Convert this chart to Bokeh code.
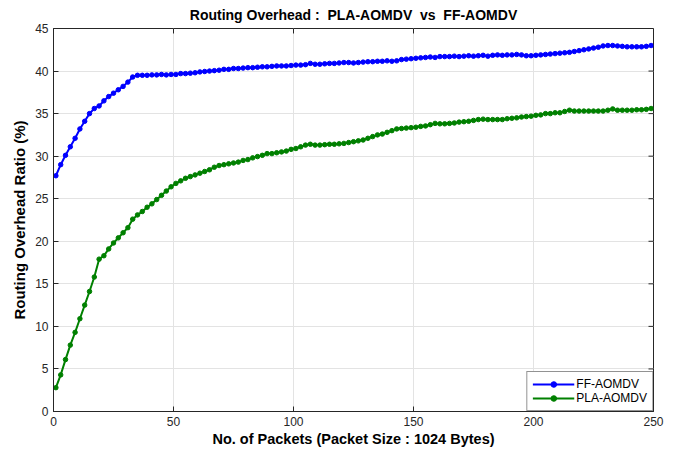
from bokeh.plotting import figure
from bokeh.models import Range1d, FixedTicker, Legend, LegendItem
from bokeh.embed import file_html
from bokeh.resources import INLINE

packets = list(range(1, 251, 2))

ff_aomdv = [
    27.7, 29.0, 30.1, 31.1, 32.1, 33.2, 34.1, 35.0, 35.6, 35.9,
    36.5, 37.0, 37.4, 37.8, 38.2, 38.7, 39.3, 39.5, 39.5, 39.5,
    39.55, 39.55, 39.6, 39.55, 39.6, 39.6, 39.7, 39.7, 39.75, 39.8,
    39.9, 39.95, 40.0, 40.05, 40.1, 40.2, 40.2, 40.3, 40.3, 40.35,
    40.4, 40.4, 40.45, 40.5, 40.5, 40.55, 40.6, 40.6, 40.6, 40.65,
    40.7, 40.7, 40.75, 40.9, 40.8, 40.8, 40.85, 40.9, 40.9, 40.95,
    41.0, 41.0, 40.95, 41.0, 41.05, 41.1, 41.1, 41.15, 41.15, 41.2,
    41.15, 41.2, 41.35, 41.4, 41.45, 41.5, 41.55, 41.6, 41.65, 41.6,
    41.7, 41.7, 41.7, 41.75, 41.7, 41.75, 41.8, 41.75, 41.8, 41.85,
    41.75, 41.85, 41.9, 41.85, 41.9, 41.9, 41.95, 41.9, 41.8, 41.8,
    41.85, 41.9, 41.95, 42.0, 42.05, 42.1, 42.15, 42.2, 42.3, 42.4,
    42.5, 42.6, 42.7, 42.8, 42.95, 43.0, 43.0, 42.95, 42.9, 42.85,
    42.85, 42.85, 42.85, 42.9, 43.0,
]

pla_aomdv = [
    2.8, 4.3, 6.1, 7.8, 9.3, 10.9, 12.5, 14.1, 15.8, 17.9,
    18.3, 19.1, 19.8, 20.4, 21.0, 21.6, 22.6, 23.1, 23.5, 24.0,
    24.4, 24.9, 25.4, 25.9, 26.4, 26.8, 27.1, 27.4, 27.6, 27.8,
    28.0, 28.2, 28.4, 28.7, 28.9, 29.0, 29.1, 29.2, 29.3, 29.5,
    29.6, 29.8, 29.95, 30.1, 30.3, 30.3, 30.4, 30.5, 30.6, 30.8,
    30.9, 31.1, 31.3, 31.4, 31.3, 31.3, 31.35, 31.4, 31.4, 31.45,
    31.5, 31.6, 31.7, 31.8, 31.9, 32.1, 32.3, 32.5, 32.6, 32.8,
    33.0, 33.2, 33.25, 33.3, 33.35, 33.4, 33.5, 33.55, 33.7, 33.85,
    33.8, 33.8, 33.85, 33.9, 34.0, 34.05, 34.1, 34.2, 34.3, 34.35,
    34.3, 34.3, 34.3, 34.3, 34.4, 34.45, 34.5, 34.6, 34.65, 34.7,
    34.8, 34.85, 35.0, 35.0, 35.1, 35.1, 35.25, 35.4, 35.3, 35.3,
    35.3, 35.3, 35.3, 35.3, 35.3, 35.4, 35.55, 35.4, 35.4, 35.4,
    35.4, 35.45, 35.45, 35.5, 35.6,
]

x_ticks = [0, 50, 100, 150, 200, 250]
y_ticks = [0, 5, 10, 15, 20, 25, 30, 35, 40, 45]

title_text = "Routing Overhead :\u00a0 PLA-AOMDV\u00a0 vs\u00a0 FF-AOMDV"
x_label = "No. of Packets (Packet Size : 1024 Bytes)"
y_label = "Routing Overhead Ratio (%)"

FONT = "Liberation Sans"
AX = "#262626"
X0, X1, Y0, Y1 = 0, 250, 0, 45

p = figure(width=670, height=450, output_backend="svg", toolbar_location=None,
           x_range=Range1d(X0, X1), y_range=Range1d(Y0, Y1),
           min_border_left=53, min_border_right=17, min_border_top=27, min_border_bottom=39,
           title=title_text)

p.title.text_font = FONT
p.title.text_font_size = "14px"
p.title.text_font_style = "bold"
p.title.text_color = "#000000"
p.title.align = "center"
p.title.vertical_align = "middle"
p.title.standoff = 10
p.title.offset = 0

p.outline_line_color = AX
p.outline_line_width = 1
p.background_fill_color = "white"
p.border_fill_color = "white"

for ax in (p.xaxis[0], p.yaxis[0]):
    ax.major_tick_in = 5
    ax.major_tick_out = 0
    ax.minor_tick_line_color = None
    ax.axis_line_color = AX
    ax.major_tick_line_color = AX
    ax.major_label_text_font = FONT
    ax.major_label_text_font_size = "12px"
    ax.major_label_text_color = AX
    ax.axis_label_text_font = FONT
    ax.axis_label_text_font_style = "bold"
    ax.axis_label_text_color = "#000000"
    ax.major_label_standoff = 5

p.xaxis[0].ticker = FixedTicker(ticks=x_ticks)
p.yaxis[0].ticker = FixedTicker(ticks=y_ticks)
p.xaxis[0].axis_label = x_label
p.yaxis[0].axis_label = y_label
p.xaxis[0].axis_label_text_font_size = "14.5px"
p.yaxis[0].axis_label_text_font_size = "15px"
p.xaxis[0].axis_label_standoff = 2
p.yaxis[0].axis_label_standoff = 4

p.xgrid.ticker = FixedTicker(ticks=x_ticks)
p.ygrid.ticker = FixedTicker(ticks=y_ticks)
p.grid.grid_line_color = "#e3e3e3"
p.grid.grid_line_width = 1

# matlab-style inward ticks on top and right edges
tick_dx = 5 * (X1 - X0) / 600.0
tick_dy = 5 * (Y1 - Y0) / 384.0
p.segment(x0=x_ticks, y0=[Y1] * len(x_ticks), x1=x_ticks, y1=[Y1 - tick_dy] * len(x_ticks),
          line_color=AX, line_width=1)
p.segment(x0=[X1] * len(y_ticks), y0=y_ticks, x1=[X1 - tick_dx] * len(y_ticks), y1=y_ticks,
          line_color=AX, line_width=1)

r1 = p.line(packets, ff_aomdv, line_color="#0000ff", line_width=2)
s1 = p.scatter(packets, ff_aomdv, size=4.5, fill_color="#0000ff", line_color="#0000ff")
r2 = p.line(packets, pla_aomdv, line_color="#008000", line_width=2)
s2 = p.scatter(packets, pla_aomdv, size=4.5, fill_color="#008000", line_color="#008000")

legend = Legend(items=[LegendItem(label="FF-AOMDV", renderers=[r1, s1]),
                       LegendItem(label="PLA-AOMDV", renderers=[r2, s2])],
                location="bottom_right")
legend.margin = 0
legend.padding = 5
legend.spacing = 0
legend.glyph_width = 42
legend.glyph_height = 14
legend.label_height = 14
legend.label_standoff = 2
legend.label_text_font = FONT
legend.label_text_font_size = "12px"
legend.label_text_color = "#000000"
legend.border_line_color = AX
legend.border_line_width = 1
legend.background_fill_color = "white"
legend.background_fill_alpha = 1
p.add_layout(legend, "center")

open("out.html", "w").write(file_html(p, INLINE))
